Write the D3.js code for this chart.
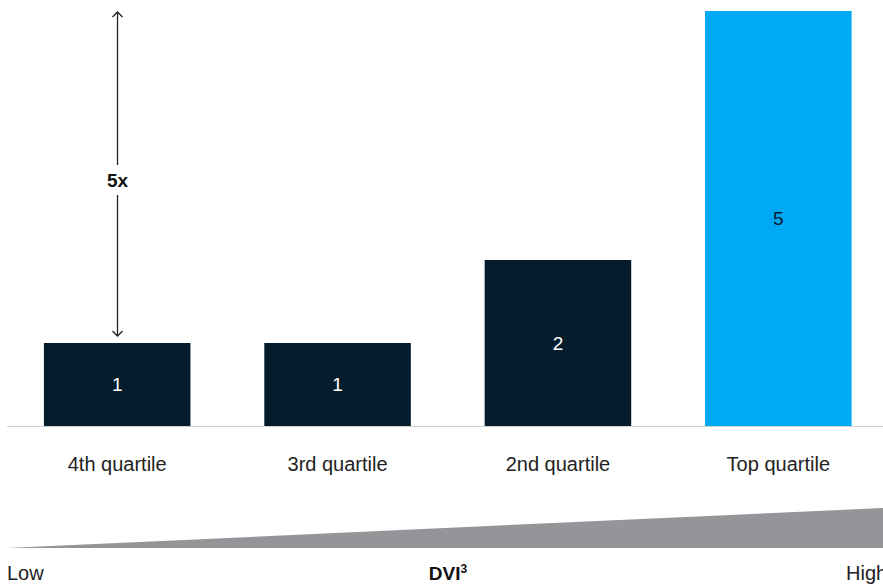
<!DOCTYPE html>
<html>
<head>
<meta charset="utf-8">
<script src="https://cdn.jsdelivr.net/npm/d3@7"></script>
<style>
  body { margin: 0; background: #fff; overflow: hidden; }
  text { font-family: "Liberation Sans", Arial, sans-serif; }
</style>
</head>
<body>
<div class="chart"></div>
<script>
var categories = ["4th quartile", "3rd quartile", "2nd quartile", "Top quartile"];
var values = [1, 1, 2, 5];
var highlight = [false, false, false, true];
var multipleLabel = "5x";
var scaleLabels = ["Low", "DVI", "High"];

var svgWidth = 883;
var svgHeight = 584;

var svg = d3.select(".chart")
    .append("svg")
    .attr("width", svgWidth)
    .attr("height", svgHeight);

var baseY = 426;

var xScale = d3.scaleBand()
    .domain(categories)
    .range([7, 888.5])
    .paddingInner(0.335)
    .paddingOuter(0.1675);

var yScale = d3.scaleLinear()
    .domain([0, 5])
    .range([baseY, 11]);

// bars
svg.selectAll("rect.bar")
    .data(values)
    .enter()
    .append("rect")
    .attr("class", "bar")
    .attr("x", (d, i) => xScale(categories[i]))
    .attr("y", d => yScale(d))
    .attr("width", xScale.bandwidth())
    .attr("height", d => baseY - yScale(d))
    .attr("fill", (d, i) => highlight[i] ? "#00a9f4" : "#051c2c");

// value labels
svg.selectAll("text.val")
    .data(values)
    .enter()
    .append("text")
    .attr("class", "val")
    .attr("x", (d, i) => xScale(categories[i]) + xScale.bandwidth() / 2)
    .attr("y", d => (yScale(d) + baseY) / 2)
    .attr("dy", "0.35em")
    .attr("text-anchor", "middle")
    .attr("font-size", 19)
    .attr("fill", (d, i) => highlight[i] ? "#051c2c" : "#fff")
    .text(d => d);

// baseline
svg.append("line")
    .attr("x1", 7)
    .attr("x2", svgWidth)
    .attr("y1", baseY + 0.5)
    .attr("y2", baseY + 0.5)
    .attr("stroke", "#cfcfcf")
    .attr("stroke-width", 1);

// category labels
svg.selectAll("text.cat")
    .data(categories)
    .enter()
    .append("text")
    .attr("class", "cat")
    .attr("x", d => xScale(d) + xScale.bandwidth() / 2)
    .attr("y", 471)
    .attr("text-anchor", "middle")
    .attr("font-size", 20)
    .attr("fill", "#222")
    .text(d => d);

// 5x arrow
var ax = Math.round(xScale(categories[0]) + xScale.bandwidth() / 2) + 0.5;
var topY = yScale(values[3]) + 1;
var botY = yScale(values[0]) - 7;
var arrow = svg.append("g").attr("stroke", "#222").attr("stroke-width", 1.3).attr("fill", "none");
arrow.append("line").attr("x1", ax).attr("x2", ax).attr("y1", topY).attr("y2", 165);
arrow.append("line").attr("x1", ax).attr("x2", ax).attr("y1", 195).attr("y2", botY);
arrow.append("path").attr("d", `M${ax - 5},${topY + 5}L${ax},${topY}L${ax + 5},${topY + 5}`);
arrow.append("path").attr("d", `M${ax - 5},${botY - 5}L${ax},${botY}L${ax + 5},${botY - 5}`);

svg.append("text")
    .attr("x", ax)
    .attr("y", 180)
    .attr("dy", "0.35em")
    .attr("text-anchor", "middle")
    .attr("font-size", 19)
    .attr("font-weight", "bold")
    .attr("fill", "#111")
    .text(multipleLabel);

// DVI wedge
svg.append("path")
    .attr("d", "M7,548L883,508L883,548Z")
    .attr("fill", "#939598");

svg.append("text")
    .attr("x", 7)
    .attr("y", 580)
    .attr("font-size", 20)
    .attr("fill", "#222")
    .text(scaleLabels[0]);

var dvi = svg.append("text")
    .attr("x", 448)
    .attr("y", 580)
    .attr("text-anchor", "middle")
    .attr("font-size", 19)
    .attr("font-weight", "bold")
    .attr("fill", "#111");
dvi.append("tspan").text(scaleLabels[1]);
dvi.append("tspan").attr("font-size", 12).attr("dy", -7).text("3");

svg.append("text")
    .attr("x", 846)
    .attr("y", 580)
    .attr("font-size", 20)
    .attr("fill", "#222")
    .text(scaleLabels[2]);
</script>
</body>
</html>
